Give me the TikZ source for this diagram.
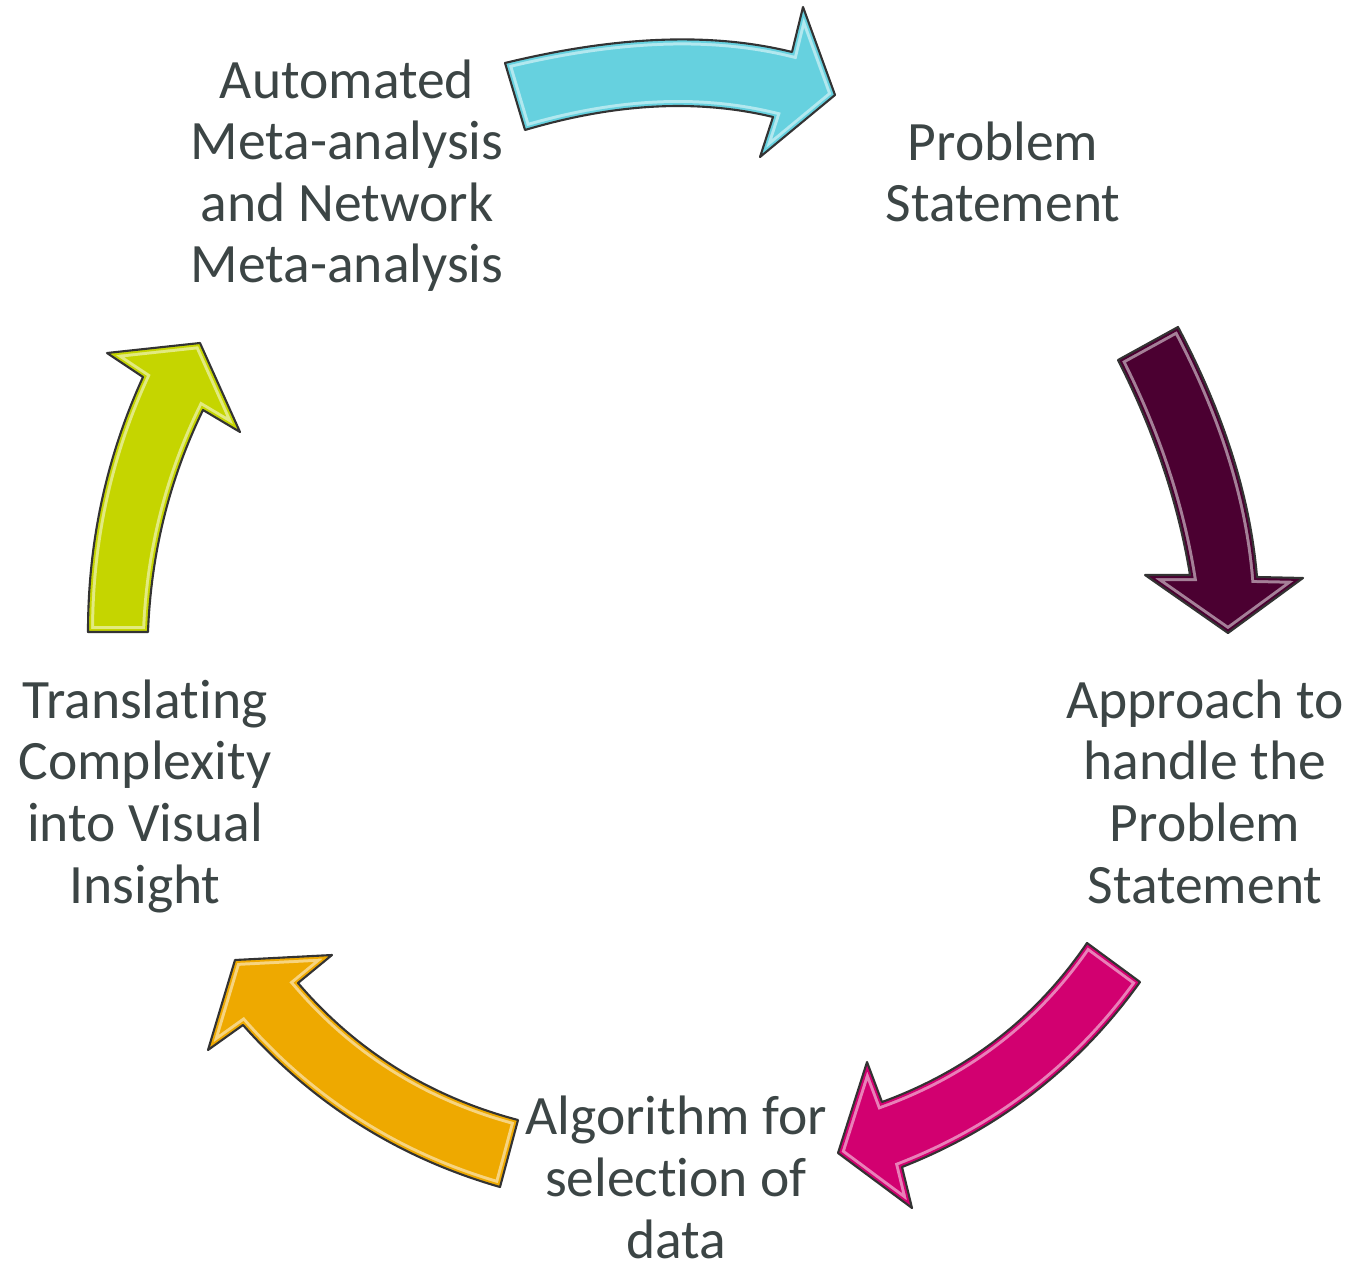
\documentclass[tikz,border=0pt]{standalone}
\usepackage{fontspec}
\setmainfont{Carlito}[RawFeature={-liga;-clig;-calt;-dlig}]
\definecolor{textgray}{HTML}{3C4545}
\definecolor{cyanarrow}{HTML}{66D1DF}
\definecolor{maroonarrow}{HTML}{4B0031}
\definecolor{magentaarrow}{HTML}{D20070}
\definecolor{orangearrow}{HTML}{EEA900}
\definecolor{limearrow}{HTML}{C5D500}
\newcommand{\cyclearrow}[2]{%
	\begin{scope}
		\clip #2;
		\fill[#1] #2;
		\draw[#1!50!white, line width=0.12cm] #2;
		\draw[#1, line width=0.06cm] #2;
	\end{scope}
	\draw[arrowrim] #2;}
\begin{document}
\begin{tikzpicture}
					[x=0.01cm, y=-0.01cm,
					steptext/.style={text=textgray, align=center, inner sep=0pt, anchor=base,
						font=\fontsize{15.8}{17.5}\selectfont},
					arrowrim/.style={draw=black!80, line width=0.6pt, line join=round}]
					\useasboundingbox (0,0) rectangle (1355,1267);
					% five steps of the cycle (anchored at the last line)
					\node[steptext] (automated) at (347,283) {Automated\\Meta-analysis\\and Network\\Meta-analysis};
					\node[steptext] (problem) at (1003,222) {Problem\\Statement};
					\node[steptext] (approach) at (1205,903) {Approach to\\handle the\\Problem\\Statement};
					\node[steptext] (algorithm) at (676,1258) {Algorithm for\\selection of\\data};
					\node[steptext] (translating) at (145,903) {Translating\\Complexity\\into Visual\\Insight};
					% block arrows between the steps
					\cyclearrow{cyanarrow}{(505,63) .. controls (616,36) and (711,32) .. (792,52) -- (803,7) -- (835,95) -- (760,157) -- (773,117) .. controls (698,99) and (616,103) .. (525,130) -- cycle}
					\cyclearrow{maroonarrow}{(1118,360) -- (1178,327) .. controls (1223,412) and (1250,495) .. (1257,577) -- (1303,578) -- (1228,633) -- (1145,575) -- (1190,575) .. controls (1178,502) and (1154,431) .. (1118,360) -- cycle}
					\cyclearrow{magentaarrow}{(1087,943) -- (1140,982) .. controls (1079,1067) and (999,1129) .. (902,1167) -- (912,1208) -- (838,1153) -- (867,1062) -- (882,1102) .. controls (967,1071) and (1036,1018) .. (1087,943) -- cycle}
					\cyclearrow{orangearrow}{(500,1187) -- (518,1120) .. controls (431,1097) and (357,1052) .. (298,983) -- (332,955) -- (235,960) -- (208,1050) -- (243,1025) .. controls (313,1104) and (399,1158) .. (500,1187) -- cycle}
					\cyclearrow{limearrow}{(88,632) -- (148,632) .. controls (151,554) and (169,480) .. (203,410) -- (240,432) -- (200,343) -- (107,353) -- (143,377) .. controls (106,458) and (88,543) .. (88,632) -- cycle}
				\end{tikzpicture}
\end{document}
